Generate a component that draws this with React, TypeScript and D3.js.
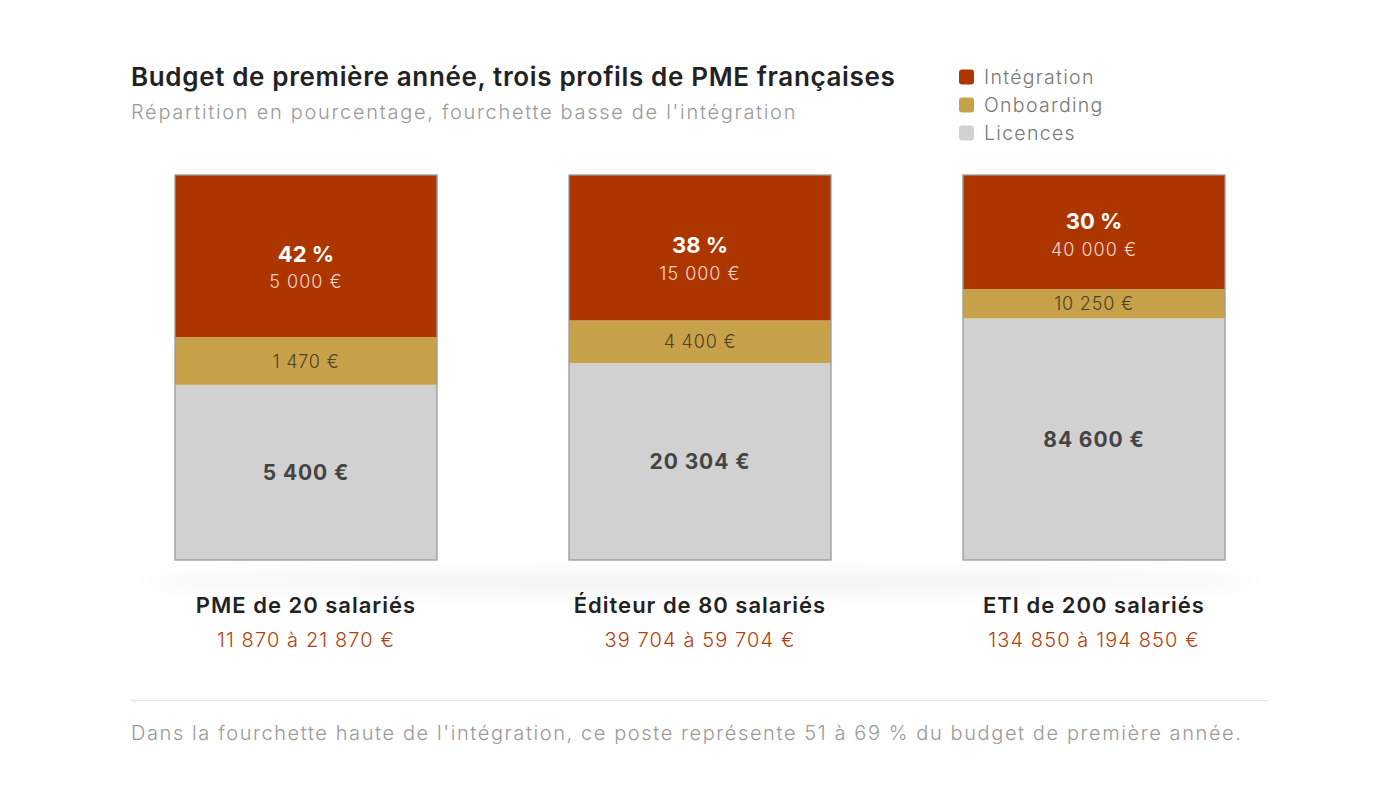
import { format, scaleBand, scaleLinear, stack } from 'd3'
import { useMemo } from 'react'

const profiles = ['PME de 20 salariés', 'Éditeur de 80 salariés', 'ETI de 200 salariés']
const ranges = ['11 870 à 21 870 €', '39 704 à 59 704 €', '134 850 à 194 850 €']
const integration = [5000, 15000, 40000]
const onboarding = [1470, 4400, 10250]
const licences = [5400, 20304, 84600]

const seriesKeys = ['licences', 'onboarding', 'integration']
const legendItems = [
  { key: 'integration', label: 'Intégration' },
  { key: 'onboarding', label: 'Onboarding' },
  { key: 'licences', label: 'Licences' },
]

const colors: Record<string, string> = {
  integration: '#ad3500',
  onboarding: '#c8a14b',
  licences: '#d1d1d1',
}

const width = 1400
const height = 788
const font = 'Inter, "Noto Sans", sans-serif'

const euro = (v: number) => format(',')(v).replace(/,/g, ' ') + ' €'

type Row = { profile: string; integration: number; onboarding: number; licences: number }

const App = () => {
  const rows: Row[] = useMemo(
    () =>
      profiles.map((profile, i) => {
        const total = integration[i] + onboarding[i] + licences[i]
        return {
          profile,
          integration: integration[i] / total,
          onboarding: onboarding[i] / total,
          licences: licences[i] / total,
        }
      }),
    [],
  )

  const x = scaleBand<string>().domain(profiles).range([175, 1225]).paddingInner(0.335).paddingOuter(0)
  const y = scaleLinear().domain([0, 1]).range([560, 175])
  const series = stack<Row>().keys(seriesKeys)(rows)
  const raw: Record<string, number[]> = { integration, onboarding, licences }

  return (
    <div style={{ position: 'absolute', left: 0, top: 0 }}>
      <svg width={width} height={height} viewBox={`0 0 ${width} ${height}`} style={{ display: 'block', background: '#fff' }}>
        <defs>
          <filter id="blur" x="-20%" y="-200%" width="140%" height="500%">
            <feGaussianBlur stdDeviation="9" />
          </filter>
        </defs>

        <text x={131} y={86} fontFamily={font} fontSize={26} fontWeight={600} letterSpacing={0.65} fill="#222">
          Budget de première année, trois profils de PME françaises
        </text>
        <text x={131} y={119} fontFamily={font} fontSize={20} fontWeight={300} letterSpacing={1.7} fill="#9a9a9a">
          Répartition en pourcentage, fourchette basse de l'intégration
        </text>

        {legendItems.map((d, i) => (
          <g key={d.key} transform={`translate(959, ${77 + i * 28})`}>
            <rect x={0} y={-7.5} width={15} height={15} rx={3} fill={colors[d.key]} />
            <text x={25} y={0} dominantBaseline="central" fontFamily={font} fontSize={19.5} fontWeight={300} letterSpacing={1.3} fill="#777">
              {d.label}
            </text>
          </g>
        ))}

        <ellipse cx={700} cy={582} rx={560} ry={12} fill="#000" opacity={0.045} filter="url(#blur)" />

        {series.map((s) =>
          s.map((seg, i) => {
            const key = s.key
            const x0 = x(profiles[i]) ?? 0
            const bw = x.bandwidth()
            const top = y(seg[1])
            const bottom = y(seg[0])
            const mid = (top + bottom) / 2
            const cx = x0 + bw / 2
            const groupMid = Math.min(mid + 11.5, bottom - 54)
            return (
              <g key={`${key}-${i}`}>
                <rect x={x0} y={top} width={bw} height={bottom - top} fill={colors[key]} />
                {key === 'integration' && (
                  <>
                    <text x={cx} y={groupMid - 14} textAnchor="middle" dominantBaseline="central" fontFamily={font} fontSize={22} fontWeight={700} fill="#fff">
                      {Math.round(seg.data.integration * 100)} %
                    </text>
                    <text x={cx} y={groupMid + 14} textAnchor="middle" dominantBaseline="central" fontFamily={font} fontSize={18} fontWeight={300} letterSpacing={1} fill="#f5d6c6">
                      {euro(raw[key][i])}
                    </text>
                  </>
                )}
                {key === 'onboarding' && (
                  <text x={cx} y={mid} textAnchor="middle" dominantBaseline="central" fontFamily={font} fontSize={18} fontWeight={300} letterSpacing={0.8} fill="#4f421e">
                    {euro(raw[key][i])}
                  </text>
                )}
                {key === 'licences' && (
                  <text x={cx} y={mid} textAnchor="middle" dominantBaseline="central" fontFamily={font} fontSize={21} fontWeight={700} letterSpacing={0.9} fill="#444">
                    {euro(raw[key][i])}
                  </text>
                )}
              </g>
            )
          }),
        )}

        {profiles.map((p, i) => {
          const x0 = x(p) ?? 0
          const cx = x0 + x.bandwidth() / 2
          return (
            <g key={p}>
              <rect x={x0} y={y(1)} width={x.bandwidth()} height={y(0) - y(1)} fill="none" stroke="#9a9a9a" strokeWidth={1.3} />
              <text x={cx} y={613} textAnchor="middle" fontFamily={font} fontSize={22} fontWeight={600} letterSpacing={1} fill="#222">
                {p}
              </text>
              <text x={cx} y={647} textAnchor="middle" fontFamily={font} fontSize={20} fontWeight={300} letterSpacing={1.1} fill="#b23f0c">
                {ranges[i]}
              </text>
            </g>
          )
        })}

        <line x1={131} x2={1268} y1={700.5} y2={700.5} stroke="#e2e2e2" strokeWidth={1.2} />
        <text x={131} y={740} fontFamily={font} fontSize={20} fontWeight={300} letterSpacing={1.6} fill="#9a9a9a">
          Dans la fourchette haute de l'intégration, ce poste représente 51 à 69 % du budget de première année.
        </text>
      </svg>
    </div>
  )
}

export default App
